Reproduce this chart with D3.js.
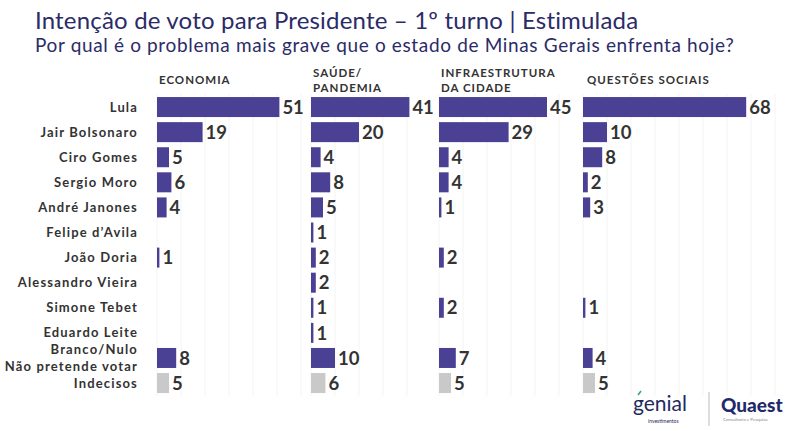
<!DOCTYPE html>
<html><head><meta charset="utf-8">
<script src="https://cdn.jsdelivr.net/npm/d3@7"></script>
<style>
html,body{margin:0;padding:0;background:#fff;}
svg{display:block;}
</style></head>
<body>
<script>
const candidates = ["Lula","Jair Bolsonaro","Ciro Gomes","Sergio Moro","André Janones","Felipe d’Avila","João Doria","Alessandro Vieira","Simone Tebet","Eduardo Leite","Branco/Nulo|Não pretende votar","Indecisos"];
const panelTitles = [["ECONOMIA"],["SAÚDE/","PANDEMIA"],["INFRAESTRUTURA","DA CIDADE"],["QUESTÕES SOCIAIS"]];
const economia   = [51,19,5,6,4,null,1,null,null,null,8,5];
const saude      = [41,20,4,8,5,1,2,2,1,1,10,6];
const infra      = [45,29,4,4,1,null,2,null,2,null,7,5];
const sociais    = [68,10,8,2,3,null,null,null,1,null,4,5];
const series = [economia, saude, infra, sociais];
const title = "Intenção de voto para Presidente – 1º turno | Estimulada";
const subtitle = "Por qual é o problema mais grave que o estado de Minas Gerais enfrenta hoje?";

const W = 790, H = 431;
const PURPLE = "#4a4094", GRAY = "#c9c9c9", TXT = "#333333", NAVY = "#2b2b68";
const svg = d3.select("body").append("svg").attr("width", W).attr("height", H);

const panelX = [157, 311, 439, 583];
const x = d3.scaleLinear().domain([0, 100]).range([0, 240]);
const y = d3.scaleBand().domain(candidates).range([94.5, 395.6]).padding(0);
const barH = 20;

// faint grid
panelX.forEach((px, i) => {
  const end = i < 3 ? panelX[i + 1] - 8 : 780;
  const ticks = d3.range(0, 100, 10).filter(t => px + x(t) < end);
  svg.append("g").selectAll("line").data(ticks).join("line")
    .attr("x1", t => px + x(t)).attr("x2", t => px + x(t))
    .attr("y1", 94).attr("y2", 396)
    .attr("stroke", "#f4f4f4").attr("stroke-width", 1);
});

svg.append("text").attr("x", 35).attr("y", 29).attr("fill", NAVY)
  .style("font-family", "Lato").style("font-size", "24px").style("letter-spacing", "0.18px").text(title);
svg.append("text").attr("x", 35).attr("y", 52).attr("fill", NAVY)
  .style("font-family", "Lato").style("font-size", "19px").style("letter-spacing", "0.65px").text(subtitle);

// category labels
const lab = svg.append("g").style("font-family", "Lato").style("font-weight", "700")
  .style("font-size", "13px").style("letter-spacing", "1.15px").attr("fill", TXT).attr("text-anchor", "end");
candidates.forEach(c => {
  const parts = c.split("|");
  const cy = y(c) + y.bandwidth() / 2;
  parts.forEach((p, j) => {
    lab.append("text").attr("x", 138)
      .attr("y", cy + (j - (parts.length - 1) / 2) * 17)
      .attr("dy", "0.35em").text(p);
  });
});

// panels
series.forEach((vals, i) => {
  const g = svg.append("g").attr("transform", `translate(${panelX[i]},0)`);
  const hdr = panelTitles[i];
  hdr.forEach((t, j) => {
    g.append("text").attr("x", i === 3 ? 4 : 2)
      .attr("y", (hdr.length === 1 ? 84 : 77) + j * 15)
      .attr("fill", TXT).style("font-family", "Lato").style("font-weight", "700")
      .style("font-size", "11.5px").style("letter-spacing", "1px").text(t);
  });
  const data = candidates.map((c, k) => ({c, v: vals[k], k})).filter(d => d.v != null);
  g.selectAll("rect").data(data).join("rect")
    .attr("x", 0).attr("y", d => y(d.c) + (y.bandwidth() - barH) / 2)
    .attr("width", d => x(d.v)).attr("height", barH)
    .attr("fill", d => d.k === candidates.length - 1 ? GRAY : PURPLE);
  g.selectAll("text.v").data(data).join("text").attr("class", "v")
    .attr("x", d => x(d.v) + 3).attr("y", d => y(d.c) + y.bandwidth() / 2)
    .attr("dy", "0.36em").attr("fill", TXT)
    .style("font-family", "Lato").style("font-weight", "700").style("font-size", "18.5px")
    .text(d => d.v);
});

// logos
const lg = svg.append("g");
lg.append("text").attr("x", 633).attr("y", 411).attr("fill", "#1f2a5e")
  .style("font-family", "Lato").style("font-size", "21px").style("font-weight", "400").text("genial");
lg.append("path").attr("d", "M638,395 l3,-4").attr("stroke", "#3aa56b").attr("stroke-width", 1.5);
lg.append("text").attr("x", 648).attr("y", 423).attr("fill", "#1f2a5e")
  .style("font-family", "Lato").style("font-size", "5px").text("investimentos");
lg.append("line").attr("x1", 709).attr("x2", 709).attr("y1", 392).attr("y2", 426)
  .attr("stroke", "#bbbbbb").attr("stroke-width", 1);
lg.append("text").attr("x", 721).attr("y", 412).attr("fill", "#1f2a6b")
  .style("font-family", "Lato").style("font-size", "19px").style("font-weight", "900").text("Quaest");
lg.append("text").attr("x", 723).attr("y", 421).attr("fill", "#888")
  .style("font-family", "Lato").style("font-size", "4.5px").text("Consultoria e Pesquisa");
</script>
</body></html>
